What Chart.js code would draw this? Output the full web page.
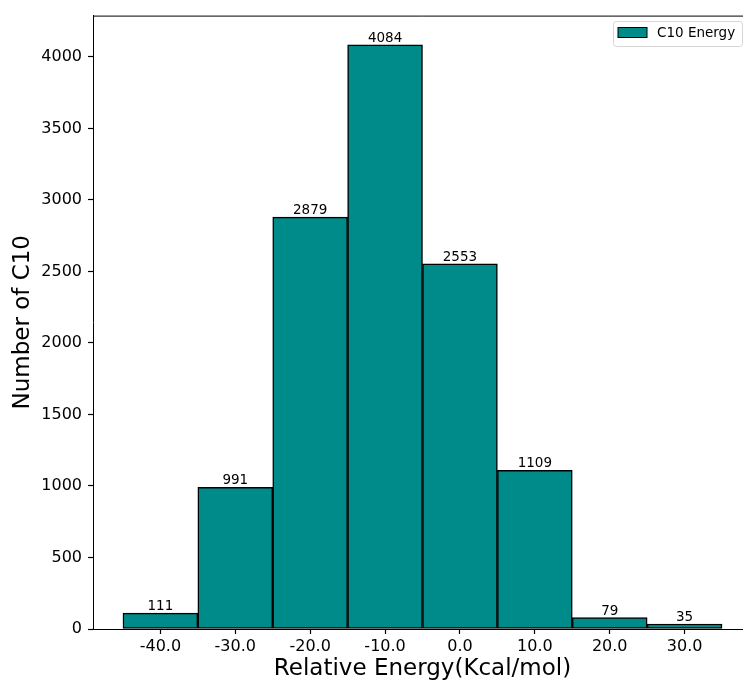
<!DOCTYPE html>
<html>
<head>
<meta charset="utf-8">
<script src="https://cdn.jsdelivr.net/npm/chart.js@4"></script>
<style>
    html, body { margin: 0; padding: 0; background: #fff; overflow: hidden; }
    #wrap { width: 760px; height: 684px; }
</style>
</head>
<body>
<div id="wrap"><canvas id="energyChart" width="760" height="684"></canvas></div>
<script>
// histogram bins (centres, width 10) and counts
var binCenters = [-40, -30, -20, -10, 0, 10, 20, 30];
var counts = [111, 991, 2879, 4084, 2553, 1109, 79, 35];
var xTicks = [-40, -30, -20, -10, 0, 10, 20, 30];
var yTicks = [0, 500, 1000, 1500, 2000, 2500, 3000, 3500, 4000];
var seriesLabel = 'C10 Energy';

var FONT = '"DejaVu Sans", sans-serif';

var points = [];
for (var i = 0; i < binCenters.length; i++) {
    points.push({x: binCenters[i], y: counts[i]});
}

// frame on top + value labels + legend box
var extras = {
    id: 'extras',
    afterDatasetsDraw: function (chart) {
        var ctx = chart.ctx;
        var meta = chart.getDatasetMeta(0);
        ctx.save();
        ctx.font = '13.5px ' + FONT;
        ctx.fillStyle = '#000';
        ctx.textAlign = 'center';
        ctx.textBaseline = 'alphabetic';
        meta.data.forEach(function (bar, idx) {
            ctx.fillText(String(counts[idx]), bar.x, bar.y - 3);
        });
        ctx.restore();
    },
    afterDraw: function (chart) {
        var ctx = chart.ctx;
        var a = chart.chartArea;
        ctx.save();
        ctx.strokeStyle = '#000';
        ctx.lineWidth = 1;
        ctx.beginPath();
        ctx.moveTo(a.left, a.top + 0.5);
        ctx.lineTo(a.right, a.top + 0.5);
        ctx.lineTo(a.right, a.bottom);
        ctx.stroke();

        // legend
        var lx = 613, ly = 21, lw = 129, lh = 25;
        ctx.fillStyle = 'rgba(255,255,255,0.8)';
        ctx.strokeStyle = '#d6d6d6';
        ctx.lineWidth = 1;
        ctx.beginPath();
        ctx.roundRect(lx + 0.5, ly + 0.5, lw, lh, 3);
        ctx.fill();
        ctx.stroke();
        ctx.fillStyle = '#008b8b';
        ctx.fillRect(618, 27.5, 29, 10);
        ctx.strokeStyle = '#000';
        ctx.strokeRect(618, 27.5, 29, 10);
        ctx.fillStyle = '#000';
        ctx.font = '13.5px ' + FONT;
        ctx.textAlign = 'left';
        ctx.textBaseline = 'middle';
        ctx.fillText(chart.data.datasets[0].label, 657, 33);
        ctx.restore();
    }
};

var ctx = document.getElementById('energyChart');
var energyChart = new Chart(ctx, {
    type: 'bar',
    data: {
        datasets: [{
            label: seriesLabel,
            data: points,
            backgroundColor: '#008b8b',
            borderColor: '#000',
            borderWidth: 1.5,
            borderSkipped: false,
            barPercentage: 1,
            categoryPercentage: 1
        }]
    },
    options: {
        responsive: false,
        animation: false,
        devicePixelRatio: 1,
        layout: {padding: {left: 0, top: 14, right: 8, bottom: 0}},
        plugins: {
            legend: {display: false},
            tooltip: {enabled: false}
        },
        scales: {
            x: {
                type: 'linear',
                min: -49,
                max: 39,
                offset: false,
                afterBuildTicks: function (scale) {
                    scale.ticks = xTicks.map(function (v) { return {value: v}; });
                },
                afterFit: function (scale) { scale.height = 55; },
                ticks: {
                    color: '#000',
                    font: {family: FONT, size: 16},
                    padding: 3,
                    maxRotation: 0,
                    callback: function (v) { return Number(v).toFixed(1); }
                },
                grid: {
                    offset: false,
                    drawOnChartArea: false,
                    drawTicks: true,
                    tickLength: 5,
                    tickColor: '#000',
                    tickWidth: 1.2
                },
                border: {display: true, color: '#000', width: 1},
                title: {
                    display: true,
                    text: 'Relative Energy(Kcal/mol)',
                    color: '#000',
                    font: {family: FONT, size: 23},
                    padding: {top: 0, bottom: 1}
                }
            },
            y: {
                min: 0,
                max: 4288.2,
                afterBuildTicks: function (scale) {
                    scale.ticks = yTicks.map(function (v) { return {value: v}; });
                },
                afterFit: function (scale) { scale.width = 93; },
                ticks: {
                    color: '#000',
                    font: {family: FONT, size: 16},
                    padding: 6,
                    callback: function (v) { return String(v); }
                },
                grid: {
                    drawOnChartArea: false,
                    drawTicks: true,
                    tickLength: 5,
                    tickColor: '#000',
                    tickWidth: 1.2
                },
                border: {display: true, color: '#000', width: 1},
                title: {
                    display: true,
                    text: 'Number of C10',
                    color: '#000',
                    font: {family: FONT, size: 23},
                    padding: {top: 9, bottom: 0}
                }
            }
        }
    },
    plugins: [extras]
});
</script>
</body>
</html>
